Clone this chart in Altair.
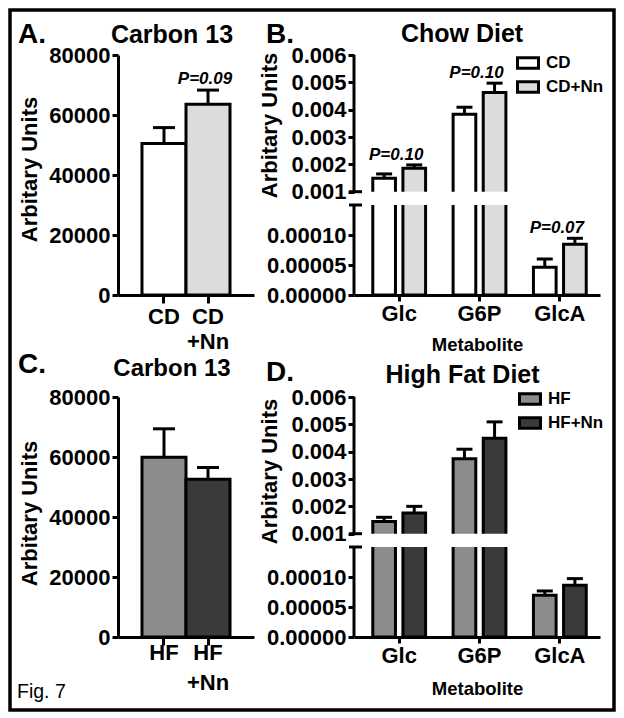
import altair as alt
import pandas as pd

FONT = "Liberation Sans"

# ---------------- data ----------------
a_groups = ["CD", "CD+Nn"]
a_means = [50500, 63600]
a_errs = [5300, 4700]
a_colors = ["#ffffff", "#dcdcdc"]

c_groups = ["HF", "HF+Nn"]
c_means = [59900, 52600]
c_errs = [9500, 3900]
c_colors = ["#8c8c8c", "#3a3a3a"]

metabolites = ["Glc", "G6P", "GlcA"]

b_groups = ["CD", "CD+Nn"]
b_first = [0.00149, 0.00383, 0.0000462]
b_first_err = [0.00016, 0.00026, 0.0000138]
b_second = [0.00186, 0.00463, 0.0000845]
b_second_err = [0.00012, 0.00034, 0.0000100]
b_pvals = ["P=0.10", "P=0.10", "P=0.07"]

d_groups = ["HF", "HF+Nn"]
d_first = [0.00145, 0.00374, 0.0000695]
d_first_err = [0.00015, 0.00035, 0.0000072]
d_second = [0.00176, 0.00449, 0.0000862]
d_second_err = [0.00024, 0.00060, 0.0000111]

carbon_ticks = [0, 20000, 40000, 60000, 80000]
metab_ticks = [0, 0.00005, 0.0001, 0.001, 0.002, 0.003, 0.004, 0.005, 0.006]
break_lo = 0.00015
break_hi = 0.001
metab_domain = [0, break_lo, break_hi, 0.006]

PLOT_H = 240
A_W = 136
B_W = 246


def text_layer(txt, x, y, size, weight="bold", align="left", style="normal"):
    return alt.Chart(pd.DataFrame({"t": [txt]})).mark_text(
        font=FONT, fontSize=size, fontWeight=weight, align=align,
        baseline="alphabetic", color="black", fontStyle=style
    ).encode(text="t:N", x=alt.value(x), y=alt.value(y))


def carbon_panel(groups, means, errs, colors, p_text,
                 label_pad, line_h, title_cy, extra):
    df = pd.DataFrame({"g": groups, "v": means,
                       "hi": [m + e for m, e in zip(means, errs)]})
    x = alt.X("g:N", sort=groups,
              scale=alt.Scale(domain=groups, paddingInner=0, paddingOuter=0.545),
              axis=alt.Axis(title=None, labelAngle=0, tickSize=8,
                            labelPadding=label_pad, labelLineHeight=line_h,
                            labelExpr="indexof(datum.label, '+') > 0 ? "
                                      "[slice(datum.label, 0, indexof(datum.label, '+')), "
                                      "slice(datum.label, indexof(datum.label, '+'))] : datum.label"))
    y = alt.Y("v:Q", scale=alt.Scale(domain=[0, 80000], nice=False),
              axis=alt.Axis(values=carbon_ticks, tickCount=len(carbon_ticks) + 5,
                            format="d", title="Arbitary Units",
                            titleX=-82, titleY=title_cy, titleAlign="center",
                            titleBaseline="alphabetic", titleAngle=-90, labelOverlap=False))
    base = alt.Chart(df)
    bars = base.mark_bar(stroke="black", strokeWidth=3).encode(
        x=x, y=y,
        color=alt.Color("g:N", scale=alt.Scale(domain=groups, range=colors), legend=None))
    err = base.mark_rule(color="black", strokeWidth=3).encode(x="g:N", y="v:Q", y2="hi:Q")
    cap = base.mark_tick(color="black", size=22, thickness=3, opacity=1).encode(x="g:N", y="hi:Q")
    layers = [bars, err, cap]
    if p_text:
        pdf = pd.DataFrame({"g": [groups[1]], "hi": [means[1] + errs[1]], "t": [p_text]})
        layers.append(alt.Chart(pdf).mark_text(
            font=FONT, fontSize=17, fontWeight="bold", fontStyle="italic",
            baseline="alphabetic", dy=-6, dx=-3, color="black"
        ).encode(x="g:N", y="hi:Q", text="t:N"))
    layers += extra
    return alt.layer(*layers).properties(width=A_W, height=PLOT_H)


def metab_panel(groups, m1, e1, m2, e2, colors, pvals, title_cy, xtitle_y, legend_x, legend_y):
    rows = []
    for i, m in enumerate(metabolites):
        rows.append({"m": m, "g": groups[0], "k": "a", "v": m1[i], "hi": m1[i] + e1[i]})
        rows.append({"m": m, "g": groups[1], "k": "b", "v": m2[i], "hi": m2[i] + e2[i]})
    df = pd.DataFrame(rows)
    x = alt.X("m:N", sort=metabolites,
              scale=alt.Scale(domain=metabolites, paddingInner=0, paddingOuter=0.03125, align=1),
              axis=alt.Axis(title="Metabolite", titleFontSize=18.5, titleX=B_W / 2,
                            titleY=xtitle_y, titleBaseline="alphabetic", labelAngle=0,
                            tickSize=6, labelPadding=2))
    xo = alt.XOffset("k:N", scale=alt.Scale(domain=["a", "b"], paddingInner=0.247,
                                            paddingOuter=0.457))
    yscale = alt.Scale(domain=metab_domain, range=[PLOT_H, 150, 136.7, 0], nice=False, zero=False)
    y = alt.Y("v:Q", scale=yscale,
              axis=alt.Axis(values=metab_ticks, tickCount=len(metab_ticks) + 5,
                            domain=False, title="Arbitary Units",
                            titleX=-77.5, titleY=title_cy, titleAlign="center",
                            titleBaseline="alphabetic", titleAngle=-90, labelOverlap=False,
                            labelExpr="datum.value < 0.0005 ? format(datum.value, '.5f') : format(datum.value, '.3f')"))
    base = alt.Chart(df)
    legend = alt.Legend(title=None, orient="none", legendX=legend_x, legendY=legend_y,
                        symbolType="M-1,-0.5H1V0.5H-1Z", symbolSize=441,
                        symbolStrokeColor="black", symbolStrokeWidth=3, symbolOpacity=1,
                        labelFont=FONT, labelFontSize=17, labelFontWeight="bold",
                        labelColor="black", labelOffset=6, rowPadding=-8, padding=0)
    bars = base.mark_bar(stroke="black", strokeWidth=3).encode(
        x=x, xOffset=xo, y=y,
        color=alt.Color("g:N", scale=alt.Scale(domain=groups, range=colors), legend=legend))
    err = base.mark_rule(color="black", strokeWidth=3).encode(
        x="m:N", xOffset="k:N", y="v:Q", y2="hi:Q")
    cap = base.mark_tick(color="black", size=16, thickness=3, opacity=1).encode(
        x="m:N", xOffset="k:N", y="hi:Q")
    gap = alt.Chart(pd.DataFrame({"lo": [break_lo], "hi": [break_hi]})).mark_rect(
        fill="white").encode(x=alt.value(2), x2=alt.value(B_W + 2), y="lo:Q", y2="hi:Q")
    dom = alt.Chart(pd.DataFrame({"a": [0, break_hi], "b": [break_lo, 0.006]})).mark_rule(
        color="black", strokeWidth=3).encode(x=alt.value(0), y="a:Q", y2="b:Q")
    brk = alt.Chart(pd.DataFrame({"b": [break_lo, break_hi]})).mark_rule(
        color="black", strokeWidth=3).encode(x=alt.value(-5), x2=alt.value(8), y="b:Q")
    layers = [bars, err, cap, gap, dom, brk]
    if pvals:
        tops = [max(m1[i] + e1[i], m2[i] + e2[i]) for i in range(len(metabolites))]
        pdf = pd.DataFrame({"m": metabolites, "hi": tops, "t": pvals})
        layers.append(alt.Chart(pdf).mark_text(
            font=FONT, fontSize=17, fontWeight="bold", fontStyle="italic",
            baseline="alphabetic", dy=-5, dx=-3, color="black"
        ).encode(x="m:N", y="hi:Q", text="t:N"))
    return layers


# ---------------- panels ----------------
border = alt.Chart(pd.DataFrame({"z": [0]})).mark_rect(
    fill=None, stroke="black", strokeWidth=3.5
).encode(x=alt.value(-108), x2=alt.value(496), y=alt.value(-45), y2=alt.value(655))

panel_a = carbon_panel(
    a_groups, a_means, a_errs, a_colors, "P=0.09",
    label_pad=3, line_h=25, title_cy=114,
    extra=[border,
           text_layer("A.", -100, -12, 28),
           text_layer("Carbon 13", 54, -12, 25, align="center")])

panel_c = carbon_panel(
    c_groups, c_means, c_errs, c_colors, None,
    label_pad=-3, line_h=30, title_cy=116,
    extra=[text_layer("C.", -100, -24, 28),
           text_layer("Carbon 13", 54, -21, 24, align="center"),
           text_layer("Fig. 7", -101, 301, 19.5, weight="normal")])

b_layers = metab_panel(b_groups, b_first, b_first_err, b_second, b_second_err,
                       a_colors, b_pvals, title_cy=70, xtitle_y=55,
                       legend_x=162, legend_y=-4)
panel_b = alt.layer(*b_layers,
                    text_layer("B.", -88, -12, 28),
                    text_layer("Chow Diet", 108, -13, 25, align="center")
                    ).properties(width=B_W, height=PLOT_H)

d_layers = metab_panel(d_groups, d_first, d_first_err, d_second, d_second_err,
                       c_colors, None, title_cy=74, xtitle_y=57,
                       legend_x=164, legend_y=-10)
panel_d = alt.layer(*d_layers,
                    text_layer("D.", -88, -16, 28),
                    text_layer("High Fat Diet", 108.5, -14, 25, align="center")
                    ).properties(width=B_W, height=PLOT_H)

chart = alt.concat(
    panel_a, panel_b, panel_c, panel_d, columns=2,
    spacing={"row": 102, "column": 100}, bounds="flush"
).resolve_scale(color="independent").properties(
    padding=0, background="white"
).configure_view(stroke=None).configure_axis(
    domainColor="black", domainWidth=3, tickColor="black", tickWidth=3, tickSize=6,
    labelFont=FONT, labelFontSize=22, labelFontWeight="bold", labelColor="black",
    labelPadding=2, titleFont=FONT, titleFontSize=22, titleFontWeight="bold",
    titleColor="black", grid=False
)

chart.save("out.html", embed_options={"renderer": "svg", "actions": False})
